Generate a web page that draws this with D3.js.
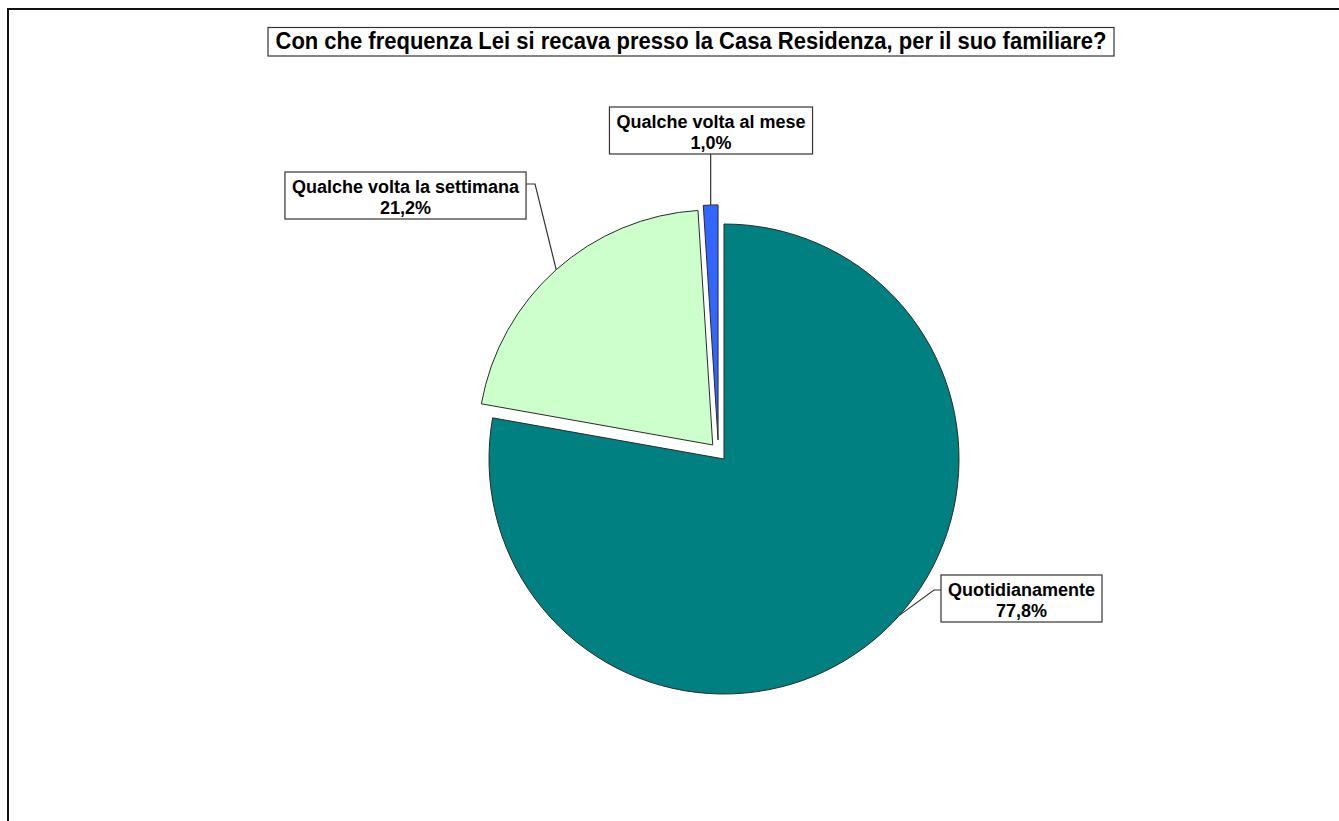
<!DOCTYPE html>
<html>
<head>
<meta charset="utf-8">
<script src="https://cdn.jsdelivr.net/npm/d3@7"></script>
<style>
  html, body { margin: 0; padding: 0; background: #fff; }
  svg { display: block; }
  text { font-family: "Liberation Sans", Arial, sans-serif; font-weight: bold; fill: #000; }
</style>
</head>
<body>
<svg id="chart" width="1339" height="821"></svg>
<script>
// Survey answers and their shares (%)
const categories = ["Quotidianamente", "Qualche volta la settimana", "Qualche volta al mese"];
const values = [77.8, 21.2, 1.0];
const valueLabels = ["77,8%", "21,2%", "1,0%"];
const colors = ["#008080", "#CCFFCC", "#3366FF"];
const titleText = "Con che frequenza Lei si recava presso la Casa Residenza, per il suo familiare?";

const svg = d3.select("#chart");
const W = 1339, H = 821;

// outer frame (runs off the right and bottom edges)
svg.append("rect")
  .attr("x", 8).attr("y", 9)
  .attr("width", W + 20).attr("height", H + 20)
  .attr("fill", "#fff").attr("stroke", "#111").attr("stroke-width", 2);

// title with its box
const titleG = svg.append("g");
titleG.append("rect")
  .attr("x", 268).attr("y", 27.5).attr("width", 846).attr("height", 28.5)
  .attr("fill", "#fff").attr("stroke", "#333").attr("stroke-width", 1.2);
titleG.append("text")
  .attr("x", 691).attr("y", 49)
  .attr("text-anchor", "middle")
  .attr("font-size", 23.5)
  .attr("textLength", 831)
  .attr("lengthAdjust", "spacingAndGlyphs")
  .text(titleText);

// pie
const cx = 724, cy = 459, R = 235;
// explosion distance and a small turn of its direction (degrees) per slice
const explode = [0, 18, 20];
const explodeTurn = [0, 3, -15.5];
const pie = d3.pie().sort(null).startAngle(0).endAngle(2 * Math.PI);
const arcs = pie(values);
const arc = d3.arc().innerRadius(0).outerRadius(R);

function offsetOf(d, i) {
  const a = (d.startAngle + d.endAngle) / 2 + explodeTurn[i] * Math.PI / 180;
  return [Math.sin(a) * explode[i], -Math.cos(a) * explode[i]];
}

const pieG = svg.append("g").attr("transform", `translate(${cx},${cy})`);
pieG.selectAll("path")
  .data(arcs)
  .join("path")
  .attr("transform", (d, i) => { const o = offsetOf(d, i); return `translate(${o[0]},${o[1]})`; })
  .attr("d", arc)
  .attr("fill", (d, i) => colors[i])
  .attr("stroke", "#2a2a2a")
  .attr("stroke-width", 1)
  .attr("stroke-linejoin", "miter");

// label layout: box centre x, box top y, side the leader leaves from, point along slice
const labelLayout = [
  { bx: 1021.5, by: 575, side: "left", frac: 0.47 },
  { bx: 405.5, by: 172, side: "right", frac: 0.5 },
  { bx: 711, by: 107, side: "bottom", frac: 0.5 }
];

const labelG = svg.append("g");
arcs.forEach((d, i) => {
  const L = labelLayout[i];
  const o = offsetOf(d, i);
  const a = d.startAngle + (d.endAngle - d.startAngle) * L.frac;
  const ex = cx + o[0] + Math.sin(a) * R;
  const ey = cy + o[1] - Math.cos(a) * R;

  const g = labelG.append("g");
  const rect = g.append("rect");
  const t1 = g.append("text").attr("x", L.bx).attr("y", L.by + 21)
    .attr("text-anchor", "middle").attr("font-size", 18).text(categories[i]);
  g.append("text").attr("x", L.bx).attr("y", L.by + 42)
    .attr("text-anchor", "middle").attr("font-size", 18).text(valueLabels[i]);
  const w = t1.node().getComputedTextLength() + 14;
  const h = 47;
  const x0 = L.bx - w / 2;
  rect.attr("x", x0).attr("y", L.by).attr("width", w).attr("height", h)
    .attr("fill", "#fff").attr("stroke", "#333").attr("stroke-width", 1.2);

  let pts;
  if (L.side === "bottom") {
    pts = [[ex, L.by + h], [ex, ey]];
  } else if (L.side === "right") {
    const sy = L.by + 12;
    pts = [[x0 + w, sy], [x0 + w + 9, sy], [ex, ey]];
  } else {
    const sy = L.by + 15;
    pts = [[x0, sy], [x0 - 7, sy], [ex, ey]];
  }
  labelG.insert("path", ":first-child")
    .attr("d", d3.line()(pts))
    .attr("fill", "none").attr("stroke", "#333").attr("stroke-width", 1.2);
});
</script>
</body>
</html>
